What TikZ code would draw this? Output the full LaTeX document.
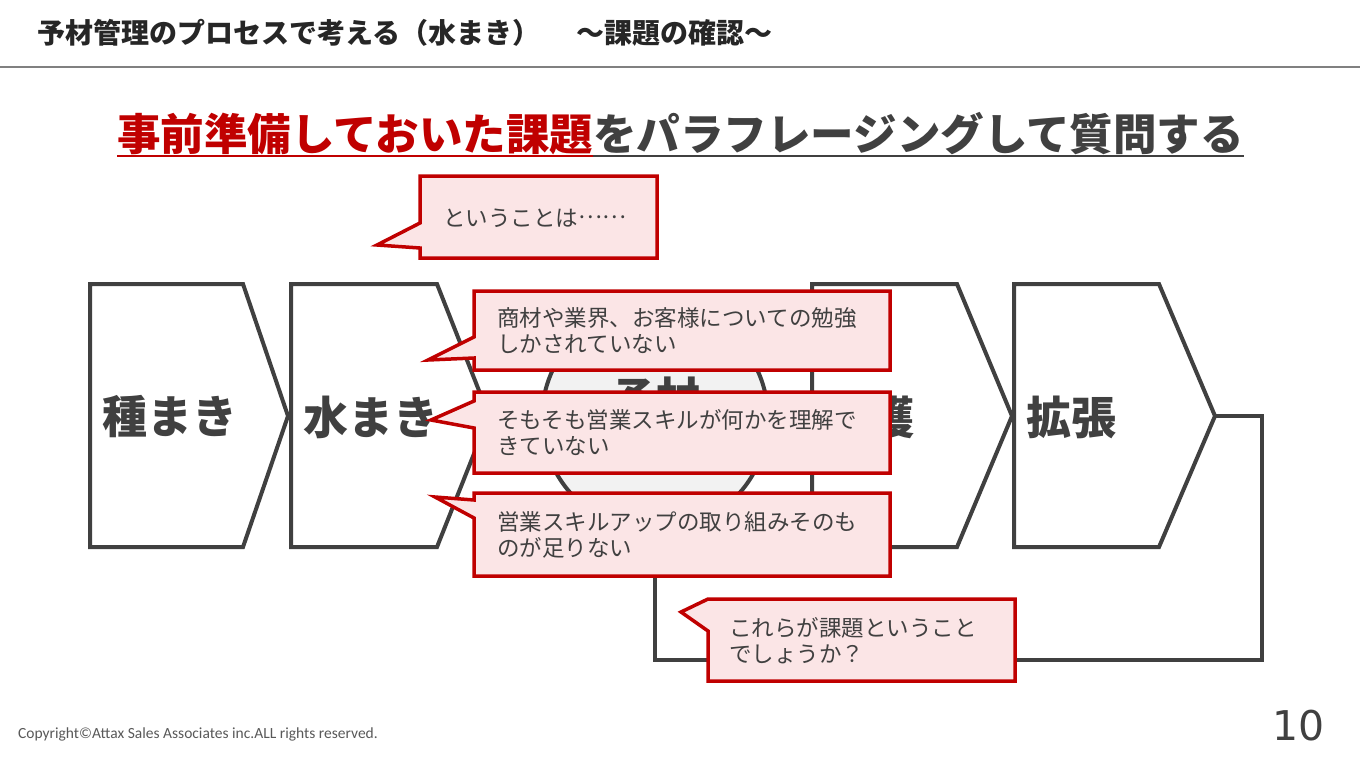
\documentclass[tikz,border=0pt]{standalone}
\usepackage{fontspec}
\newfontfamily\jp{Noto Sans CJK JP}
\newfontfamily\cali{Carlito}
\newfontfamily\dvs{DejaVu Sans}
\definecolor{dg}{HTML}{404040}
\definecolor{cred}{HTML}{C00000}
\definecolor{cpink}{HTML}{FBE5E6}
\definecolor{cgray}{HTML}{F2F2F2}
\definecolor{hline}{HTML}{808080}
\definecolor{hdtext}{HTML}{262626}
\definecolor{cpy}{HTML}{595959}
\begin{document}
\begin{tikzpicture}[x=1pt,y=-1pt,
  chev/.style={draw=dg, line width=4pt, fill=white, line join=miter},
  chevlabel/.style={font=\jp\bfseries\fontsize{45}{50}\selectfont, text=dg, anchor=west, inner sep=0pt},
  cshape/.style={draw=cred, fill=cpink, line width=3.5pt, line join=miter},
  ctext/.style={font=\jp\fontsize{22.5}{26}\selectfont, text=dg, anchor=west, align=left, inner sep=0pt},
  loopline/.style={draw=dg, line width=4pt, line join=miter}
]
\useasboundingbox (0,0) rectangle (1360,766);
\fill[white] (0,0) rectangle (1360,766);

% header
\node[anchor=west, inner sep=0pt, font=\jp\bfseries\fontsize{28}{30}\selectfont, text=hdtext] (hdr) at (37,33) {予材管理のプロセスで考える（水まき）\hspace{36pt}～課題の確認～};
\draw[hline, line width=2pt] (0,67) -- (1360,67);

% title
\node[anchor=west, inner sep=0pt, font=\jp\bfseries\fontsize{43.5}{48}\selectfont, text=cred] (ttlA) at (117,134) {事前準備しておいた課題};
\node[anchor=west, inner sep=0pt, font=\jp\bfseries\fontsize{43.5}{48}\selectfont, text=dg] (ttlB) at (ttlA.east) {をパラフレージングして質問する};
\coordinate (ul) at (0,156);
\draw[cred, line width=2.5pt] (ttlA.west |- ul) -- (ttlA.east |- ul);
\draw[dg, line width=2.5pt] (ttlB.west |- ul) -- (ttlB.east |- ul);

% chevrons
\foreach \L/\R/\T in {90/243/288, 291/437/489, 812/957/1012, 1014/1159/1215}
  \draw[chev] (\L,284) -- (\R,284) -- (\T,416) -- (\R,547) -- (\L,547) -- cycle;
\coordinate (tip5) at (1215,416);
\node[chevlabel] (l1) at (102,417) {種まき};
\node[chevlabel] (l2) at (303,417) {水まき};
\node[chevlabel] (l4) at (824,417) {収穫};
\node[chevlabel] (l5) at (1026,417) {拡張};

% circle
\node[circle, draw=dg, fill=cgray, line width=4pt, minimum size=226pt, inner sep=0pt] (yz) at (655,418) {};
\node[font=\jp\bfseries\fontsize{44}{48}\selectfont, text=dg, inner sep=0pt] (yzt) at (656,398) {予材};

% loop
\draw[loopline] (tip5) -- (1262,416) -- (1262,660) -- (655,660) -- (yz.south);

% callout A
\path[cshape] (420,176) -- (657,176) -- (657,258) -- (420,258) -- (420,248) -- (377,245) -- (420,223) -- cycle;
\node[ctext] (ta) at (443,218) {ということは\raisebox{0.34em}{……}};

% callout B
\path[cshape] (474,291) -- (890,291) -- (890,370) -- (474,370) -- (474,358) -- (428,360) -- (474,337) -- cycle;
\node[ctext] (tb) at (497,331) {商材や業界、お客様についての勉強\\しかされていない};

% callout C
\path[cshape] (474,392) -- (890,392) -- (890,473) -- (474,473) -- (474,428) -- (431,420) -- (474,401) -- cycle;
\node[ctext] (tc) at (497,433) {そもそも営業スキルが何かを理解で\\きていない};

% callout D
\path[cshape] (474,493) -- (890,493) -- (890,576) -- (474,576) -- (474,518) -- (435,497) -- (474,500) -- cycle;
\node[ctext] (td) at (497,535) {営業スキルアップの取り組みそのも\\のが足りない};

% callout E
\path[cshape] (708,599) -- (1015,599) -- (1015,681) -- (708,681) -- (708,631) -- (681,612) -- cycle;
\node[ctext] (te) at (729,641) {これらが課題ということ\\でしょうか？};

% footer
\node[anchor=west, inner sep=0pt, font=\cali\fontsize{15.5}{17}\selectfont, text=cpy] (cp) at (18,734) {Copyright©Attax Sales Associates inc.ALL rights reserved.};
\node[anchor=east, inner sep=0pt, font=\dvs\fontsize{41}{45}\selectfont, text=dg] (pg) at (1325,726) {10};
\end{tikzpicture}
\end{document}
